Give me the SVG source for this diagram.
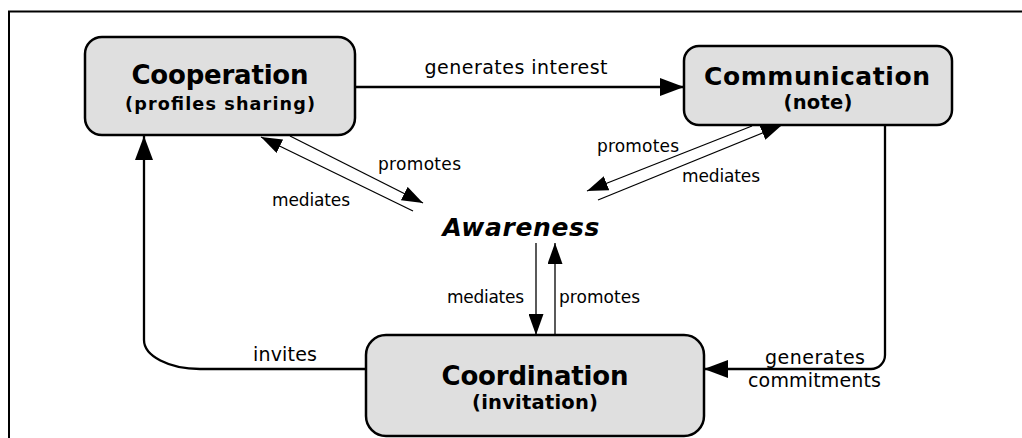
<svg xmlns="http://www.w3.org/2000/svg" width="1022" height="438" viewBox="0 0 1022 438">
  <style>
    .box { fill: #dfdfdf; stroke: #000; stroke-width: 2.5; }
    .title { font-family: "DejaVu Sans", Verdana, sans-serif; font-weight: bold; font-size: 26px; fill: #000; text-anchor: middle; }
    .sub { font-family: "DejaVu Sans", Verdana, sans-serif; font-weight: bold; font-size: 19.5px; fill: #000; text-anchor: middle; }
    .thick { fill: none; stroke: #000; stroke-width: 2.3; }
    .thin { fill: none; stroke: #000; stroke-width: 1.3; }
    .lbl { font-family: "DejaVu Sans", Verdana, sans-serif; font-size: 17px; fill: #000; }
    .lbl2 { font-family: "DejaVu Sans", Verdana, sans-serif; font-size: 19px; fill: #000; }
    .aw { font-family: "DejaVu Sans", Verdana, sans-serif; font-weight: bold; font-style: italic; font-size: 25px; fill: #000; text-anchor: middle; }
  </style>
  <defs>
    <marker id="big" markerUnits="userSpaceOnUse" markerWidth="24" markerHeight="18" refX="24" refY="9" orient="auto">
      <path d="M0,0 L24,9 L0,18 z" fill="#000"/>
    </marker>
    <marker id="small" markerUnits="userSpaceOnUse" markerWidth="21" markerHeight="15" refX="21" refY="7.5" orient="auto">
      <path d="M0,0 L21,7.5 L0,15 z" fill="#000"/>
    </marker>
  </defs>
  <rect width="1022" height="438" fill="#fff"/>
  <path d="M9,440 V11.5 H1024" fill="none" stroke="#000" stroke-width="2"/>

  <g id="connectors">
    <path class="thick" d="M355,87 H684" marker-end="url(#big)"/>
    <path class="thick" d="M885,125 V355 A14,14 0 0 1 871,369 H704" marker-end="url(#big)"/>
    <path class="thick" d="M366,369 H200 A56,29 0 0 1 144,340 V136" marker-end="url(#big)"/>
    <path class="thin" d="M413,211 L261,137" marker-end="url(#small)"/>
    <path class="thin" d="M290,136 L423,203" marker-end="url(#small)"/>
    <path class="thin" d="M752,126 L587,191" marker-end="url(#small)"/>
    <path class="thin" d="M598,200 L782,125" marker-end="url(#small)"/>
    <path class="thin" d="M536,243 V335" marker-end="url(#small)"/>
    <path class="thin" d="M555,335 V243" marker-end="url(#small)"/>
    <text class="lbl2" x="516" y="74" text-anchor="middle" textLength="183">generates interest</text>
    <text class="lbl" x="378" y="170" textLength="83">promotes</text>
    <text class="lbl" x="272" y="206" textLength="78">mediates</text>
    <text class="lbl" x="597" y="152" textLength="82">promotes</text>
    <text class="lbl" x="682" y="182" textLength="78">mediates</text>
    <text class="lbl" x="447" y="303" textLength="77">mediates</text>
    <text class="lbl" x="559" y="303" textLength="81">promotes</text>
    <text class="lbl2" x="253" y="361" textLength="64">invites</text>
    <text class="lbl2" x="765" y="364" textLength="100">generates</text>
    <text class="lbl2" x="748" y="387" textLength="133">commitments</text>
  </g>

  <g id="cooperation">
    <rect class="box" x="85" y="37" width="270" height="98" rx="17"/>
    <text class="title" x="220" y="84" textLength="177">Cooperation</text>
    <text class="sub" x="220" y="110" style="font-size:17.6px" textLength="190">(profiles sharing)</text>
  </g>
  <g id="communication">
    <rect class="box" x="684" y="46" width="268" height="79" rx="15"/>
    <text class="title" x="817" y="85" style="font-size:25px" textLength="226">Communication</text>
    <text class="sub" x="818" y="109" textLength="69">(note)</text>
  </g>
  <g id="awareness">
    <text class="aw" x="521" y="236" textLength="157">Awareness</text>
  </g>
  <g id="coordination">
    <rect class="box" x="366" y="335" width="338" height="101" rx="20"/>
    <text class="title" x="535" y="385" textLength="187">Coordination</text>
    <text class="sub" x="535" y="409" textLength="126">(invitation)</text>
  </g>
</svg>
